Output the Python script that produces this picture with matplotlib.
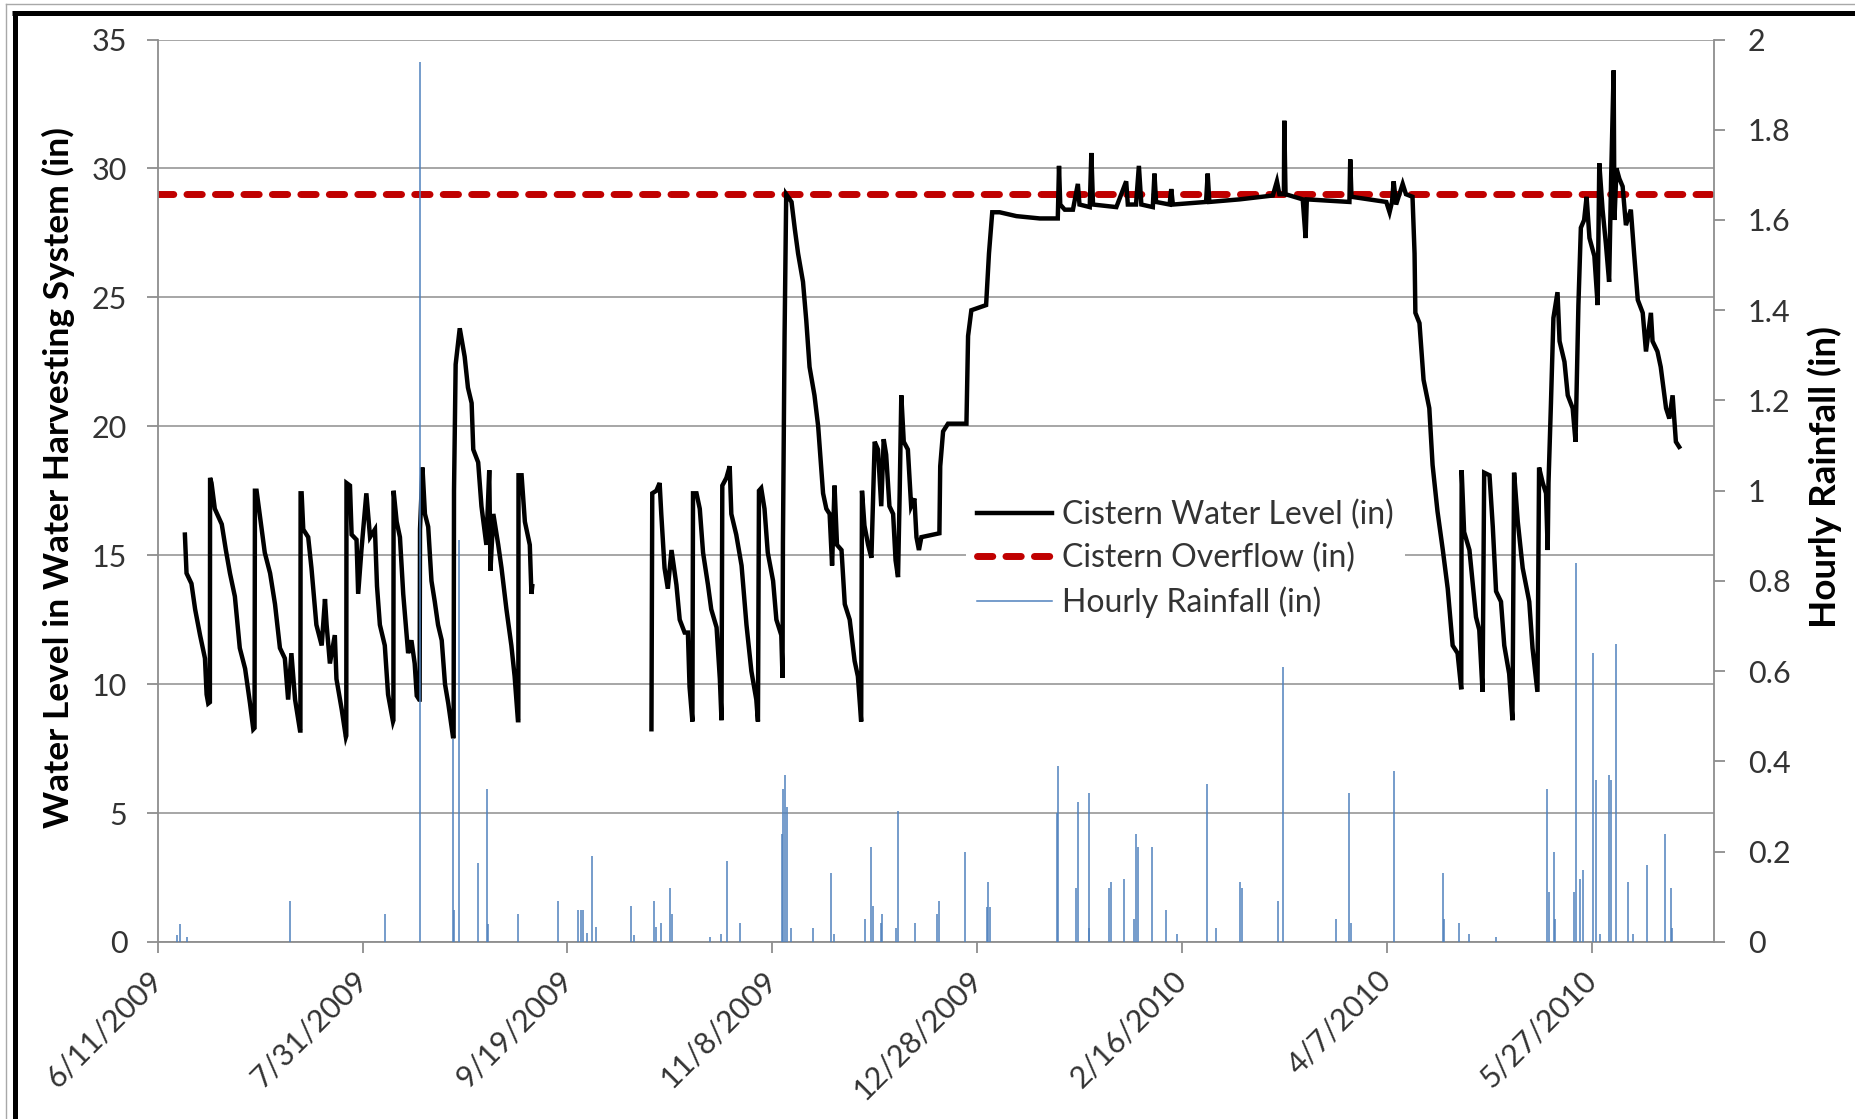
import numpy as np
import matplotlib
matplotlib.use("Agg")
import matplotlib.pyplot as plt
from matplotlib.lines import Line2D

# ---------------- data ----------------
start_date = "2009-06-11"
tick_dates = ["2009-06-11", "2009-07-31", "2009-09-19", "2009-11-08",
              "2009-12-28", "2010-02-16", "2010-04-07", "2010-05-27"]
tick_labels = ["6/11/2009", "7/31/2009", "9/19/2009", "11/8/2009",
               "12/28/2009", "2/16/2010", "4/7/2010", "5/27/2010"]
x_end_days = 380

# Cistern water level: days after 6/11/2009, inches (nan = no data)
level_day = [
    6.6, 7.0, 8.2, 9.1, 10.3, 11.5, 11.9, 12.3, 12.7, 12.75,
    13.1, 13.9, 15.6, 16.6, 17.6, 18.8, 20.0, 21.3, 22.5, 23.3, 23.6, 23.7,
    24.1, 25.1, 26.1, 27.4, 28.6, 29.8, 31.0, 31.8, 32.6, 33.5, 34.7, 34.8, 34.85,
    35.1, 35.5, 36.7, 37.5, 38.7, 40.0, 40.8, 41.2, 42.0, 43.2, 43.6, 44.9, 45.9, 46.0, 46.05,
    46.9, 47.3, 48.5, 48.9, 49.7, 50.9, 51.8, 53.0, 53.5, 54.2, 55.4, 56.2, 57.4, 57.5, 57.55,
    58.3, 59.1, 59.9, 61.1, 61.9, 62.7, 63.2, 63.8, 63.9, 64.0, 64.6,
    65.2, 66.0, 66.8, 67.6, 68.4, 69.3, 70.1, 70.9, 72.1, 72.2, 72.3, 72.7, 73.7,
    74.9, 75.7, 76.6, 77.0, 78.2, 79.0, 80.2, 80.9, 81.2, 81.9, 83.1, 83.9, 85.1, 86.3, 87.1, 87.9,
    88.0, 88.05, 88.8, 89.6, 90.8, 91.2, 91.4,
    100.0,
    120.5, 120.7, 121.7, 122.5, 122.9, 123.7, 124.5, 125.4, 126.6, 127.4, 128.6, 129.4, 129.8, 130.5,
    130.65, 131.5, 132.3, 133.1, 134.3, 135.1, 136.4, 137.2, 137.6,
    137.8, 138.8, 139.6, 140.0, 141.2, 142.5, 143.7, 144.9, 146.1, 146.5,
    146.75, 147.3, 148.1, 148.9, 150.2, 151.0, 152.2, 152.5,
    152.6, 153.0, 153.4, 154.7, 155.5, 156.3, 157.5, 158.3, 159.1, 160.3, 161.2, 162.4, 163.2,
    164.0, 164.6, 165.2, 165.8, 166.9, 167.7, 168.9, 170.1, 170.9, 171.7,
    171.9, 172.5, 173.4, 174.2, 174.6, 175.0, 175.8, 176.6, 177.2, 177.8, 178.6, 179.5, 180.1,
    180.7, 181.1, 181.5, 182.1, 183.1, 183.9, 184.7, 185.2, 185.8, 186.4, 190.8, 191.0, 191.7,
    192.9, 197.4, 197.8, 198.6, 202.2, 202.9, 203.7, 205.5, 209.6, 215.3, 219.7,
    220.0, 220.3, 221.4, 223.4, 224.6, 225.0, 227.5, 227.9, 228.3, 234.0, 236.4, 236.8, 238.8,
    239.5, 240.1, 242.9, 243.3, 243.7, 247.0, 247.4, 247.8, 255.9, 256.3, 256.7, 264.1, 272.2,
    273.2, 273.8, 274.9, 275.0, 275.3, 279.5, 280.2, 280.5, 290.9, 291.1, 291.4, 299.9, 300.7,
    301.3, 301.7, 302.3, 303.1, 303.9, 304.7, 306.3,
    306.8, 307.0, 308.0, 309.0, 310.4, 311.2, 312.4, 313.7, 314.9, 316.1, 317.3, 318.2,
    318.3, 318.9, 320.2, 321.8, 322.6, 323.4,
    323.8, 325.1, 325.9, 326.7, 327.9, 328.7, 329.9, 330.7,
    331.1, 332.0, 333.2, 334.8, 335.6, 336.8,
    337.2, 338.1, 338.9, 339.3, 339.5, 340.1, 340.7, 341.7, 342.2, 343.4, 344.2, 345.4, 346.1,
    346.8, 347.4, 348.2, 348.8, 349.5, 350.7, 351.5, 351.9, 352.7, 353.5, 354.3, 354.8, 355.4,
    355.6, 356.1, 356.8, 357.6, 358.4, 359.6, 360.4, 361.3, 362.5, 363.3, 364.5, 364.9, 366.1,
    366.9, 368.2, 369.0, 369.8, 370.6, 371.4,
]
level_in = [
    15.8, 14.3, 13.9, 12.9, 11.9, 11.0, 9.6, 9.25, 9.3, 18.0,
    17.8, 16.8, 16.2, 15.2, 14.3, 13.4, 11.4, 10.6, 9.25, 8.25, 8.3, 17.5,
    17.5, 16.3, 15.1, 14.3, 13.1, 11.4, 11.0, 9.4, 11.2, 9.4, 8.2, 8.2, 17.4,
    17.4, 16.0, 15.7, 14.5, 12.3, 11.5, 13.3, 12.3, 10.8, 11.9, 10.2, 9.0, 7.95, 8.0, 17.8,
    17.7, 15.8, 15.6, 13.5, 15.2, 17.4, 15.7, 16.0, 13.8, 12.3, 11.5, 9.6, 8.55, 8.6, 17.5,
    16.3, 15.7, 13.5, 11.2, 11.7, 10.8, 9.55, 9.4, 9.4, 16.0, 18.4,
    16.6, 16.1, 14.0, 13.2, 12.3, 11.7, 10.0, 9.25, 7.9, 8.0, 17.5, 22.4, 23.8,
    22.7, 21.5, 20.9, 19.1, 18.6, 16.9, 15.4, 18.3, 14.4, 16.6, 15.4, 14.5, 12.9, 11.5, 10.3, 8.6,
    8.6, 18.1, 18.1, 16.3, 15.4, 13.5, 13.8,
    np.nan,
    8.25, 17.4, 17.5, 17.8, 16.6, 14.5, 13.7, 15.2, 13.85, 12.5, 12.0, 12.0, 9.9, 8.55,
    17.4, 17.4, 16.8, 15.1, 13.85, 12.9, 12.2, 10.2, 8.6,
    17.7, 18.0, 18.45, 16.6, 15.8, 14.6, 12.3, 10.5, 9.4, 8.55,
    17.5, 17.6, 16.8, 15.1, 14.0, 12.5, 11.9, 10.25,
    15.5, 23.5, 29.0, 28.7, 27.65, 26.7, 25.6, 24.1, 22.3, 21.2, 20.0, 17.4, 16.8,
    16.6, 14.6, 17.7, 15.4, 15.2, 13.1, 12.5, 10.9, 10.3, 8.55,
    17.5, 16.15, 15.4, 14.9, 17.2, 19.4, 19.1, 16.9, 19.5, 18.9, 16.9, 16.6, 14.8,
    14.15, 17.4, 21.2, 19.4, 19.1, 16.9, 17.2, 15.7, 15.2, 15.7, 15.85, 18.45, 19.8,
    20.1, 20.1, 23.5, 24.5, 24.7, 26.7, 28.3, 28.3, 28.15, 28.06, 28.06,
    30.1, 28.6, 28.4, 28.4, 29.4, 28.6, 28.5, 30.6, 28.6, 28.5, 29.5, 28.6, 28.6,
    30.1, 28.6, 28.5, 29.8, 28.7, 28.6, 29.2, 28.6, 28.7, 29.8, 28.7, 28.8, 28.95,
    29.5, 29.0, 29.0, 31.85, 29.0, 28.8, 27.3, 28.8, 28.7, 30.35, 28.9, 28.7, 28.3,
    28.7, 29.5, 28.6, 29.0, 29.4, 29.0, 28.9,
    26.7, 24.4, 24.0, 21.8, 20.7, 18.5, 16.7, 15.2, 13.7, 11.5, 11.2, 9.8,
    18.3, 15.9, 15.2, 12.6, 12.1, 9.7,
    18.2, 18.1, 16.1, 13.6, 13.2, 11.5, 10.4, 8.6,
    18.2, 16.3, 14.5, 13.2, 11.4, 9.7,
    18.4, 17.8, 17.4, 15.2, 17.8, 20.9, 24.2, 25.2, 23.3, 22.5, 21.2, 20.7, 19.4,
    24.7, 27.7, 28.0, 28.9, 27.3, 26.6, 24.7, 30.2, 28.4, 27.1, 25.6, 29.7, 33.8,
    28.0, 30.0, 29.6, 29.3, 27.8, 28.4, 26.7, 24.9, 24.4, 22.9, 24.4, 23.3, 22.9,
    22.3, 20.7, 20.3, 21.2, 19.4, 19.2,
]

overflow_in = 29.0

# Hourly rainfall events: days after 6/11/2009, inches
rain_day = [
    4.6, 5.4, 7.2, 32.2, 55.4, 64.0, 72.1, 72.4, 73.4, 78.1, 80.3, 80.7, 88.0, 97.6,
    102.6, 103.2, 103.8, 104.8, 106.0, 107.0, 115.5, 116.2, 121.2, 121.6, 122.8, 125.1, 125.6,
    134.8, 137.4, 139.0, 142.0, 152.4, 152.7, 153.2, 153.6, 154.6, 160.0, 164.3, 165.1,
    172.6, 174.2, 174.6, 176.5, 176.8, 180.3, 180.8, 184.9, 190.2, 190.6, 197.1, 202.3,
    202.6, 203.1, 219.6, 219.7, 224.2, 224.6, 227.2, 227.4, 232.3, 232.7, 235.8, 238.4,
    238.8, 239.2, 242.7, 246.0, 248.9,
    256.2, 258.4, 264.3, 264.7, 273.4, 274.8, 287.6, 290.9, 291.2, 301.8, 313.7, 314.1,
    317.7, 320.2, 326.6, 339.2, 339.6, 340.8, 341.2, 345.8, 346.1, 347.1, 347.9, 350.4,
    351.1, 352.1, 354.2, 354.7, 356.0, 358.9, 360.2, 363.6, 367.9, 369.3, 369.7,
]
rain_in = [
    0.015, 0.04, 0.011, 0.09, 0.063, 1.95, 0.45, 0.07, 0.89, 0.174, 0.34, 0.04, 0.063, 0.09,
    0.07, 0.07, 0.07, 0.02, 0.19, 0.033, 0.08, 0.015, 0.09, 0.033, 0.042, 0.12, 0.063,
    0.011, 0.018, 0.18, 0.042, 0.24, 0.34, 0.37, 0.30, 0.03, 0.03, 0.153, 0.018,
    0.05, 0.21, 0.08, 0.042, 0.063, 0.03, 0.29, 0.042, 0.063, 0.09, 0.2, 0.078,
    0.133, 0.078, 0.285, 0.39, 0.12, 0.31, 0.03, 0.33, 0.12, 0.133, 0.14, 0.05,
    0.24, 0.21, 0.21, 0.07, 0.018,
    0.35, 0.03, 0.133, 0.12, 0.09, 0.61, 0.05, 0.33, 0.042, 0.38, 0.153, 0.05,
    0.042, 0.018, 0.011, 0.34, 0.11, 0.2, 0.05, 0.11, 0.84, 0.14, 0.16, 0.64,
    0.36, 0.018, 0.37, 0.36, 0.66, 0.133, 0.018, 0.17, 0.24, 0.12, 0.03,
]

series_names = ["Cistern Water Level (in)", "Cistern Overflow (in)", "Hourly Rainfall (in)"]

# ---------------- plotting ----------------
FONT = "Lato"
plt.rcParams["font.family"] = [FONT, "DejaVu Sans"]

t0 = np.datetime64(start_date, "s")


def to_dates(days):
    return t0 + (np.asarray(days, dtype=float) * 86400).astype("timedelta64[s]")


fig = plt.figure(figsize=(18.55, 11.19), dpi=100)
ax = fig.add_axes([0.0851, 0.1582, 0.8391, 0.8065])
ax2 = ax.twinx()

grid_c = "#8E8E8E"
text_c = "#333333"

# grid
ax.set_axisbelow(True)
ax.yaxis.grid(True, color=grid_c, lw=1.1)
ax.xaxis.grid(False)

# series
l1, = ax.plot(to_dates(level_day), level_in, color="black", lw=3.2,
              solid_joinstyle="miter", label=series_names[0], zorder=3)
l2 = ax.axhline(overflow_in, color="#C00000", lw=5.0, dashes=(2.2, 1.9),
                dash_capstyle="round", label=series_names[1], zorder=2)
ax2.vlines(to_dates(rain_day), 0, rain_in, color="#4F81BD", lw=1.1, zorder=4)

# axes limits
ax.set_ylim(0, 35)
ax.set_yticks(np.arange(0, 36, 5))
ax2.set_ylim(0, 2)
ax2.set_yticks([0, 0.2, 0.4, 0.6, 0.8, 1.0, 1.2, 1.4, 1.6, 1.8, 2.0])
ax2.set_yticklabels(["0", "0.2", "0.4", "0.6", "0.8", "1", "1.2", "1.4", "1.6", "1.8", "2"])
ax.set_xlim(to_dates([0])[0], to_dates([x_end_days])[0])
ax.set_xticks(np.array(tick_dates, dtype="datetime64[s]"))
ax.set_xticklabels(tick_labels, rotation=45, ha="right", va="center",
                   rotation_mode="anchor")

for a in (ax, ax2):
    for s in a.spines.values():
        s.set_color(grid_c)
        s.set_linewidth(1.3)
    a.spines["top"].set_visible(False)
ax.spines["right"].set_visible(False)
ax2.spines["left"].set_visible(False)
ax2.spines["bottom"].set_visible(False)

ax.tick_params(axis="both", direction="out", length=8, width=1.3, color=grid_c,
               labelsize=22, labelcolor=text_c)
ax.tick_params(axis="y", pad=14)
ax.tick_params(axis="x", pad=16)
ax2.tick_params(axis="y", direction="out", length=8, width=1.3, color=grid_c,
                labelsize=22, labelcolor=text_c, pad=16)

ax.set_ylabel("Water Level in Water Harvesting System (in)", fontsize=25.5,
              fontweight="bold", color="black", labelpad=12)
ax2.set_ylabel("Hourly Rainfall (in)", fontsize=26.5, fontweight="bold",
               color="black", labelpad=12)
ax.yaxis.label.set_y(0.515)
ax2.yaxis.label.set_y(0.515)

# legend
h3 = Line2D([], [], color="#4F81BD", lw=1.1, label=series_names[2])
leg = ax2.legend(handles=[l1, l2, h3], loc="center",
                 bbox_to_anchor=(0.6391, 0.5005), bbox_transform=fig.transFigure,
                 fontsize=23, frameon=True, facecolor="white", edgecolor="none",
                 framealpha=1, fancybox=False, borderpad=0.35, handlelength=2.35,
                 handletextpad=0.3, labelspacing=0.4)
for t in leg.get_texts():
    t.set_color(text_c)
leg.set_zorder(10)

# frame lines of the original image
fig.add_artist(Line2D([5.7 / 1855, 1], [1 - 4 / 1119, 1 - 4 / 1119],
                      transform=fig.transFigure, color="#A8A8A8", lw=1.0))
fig.add_artist(Line2D([5.7 / 1855, 5.7 / 1855], [0, 1 - 4 / 1119],
                      transform=fig.transFigure, color="#A8A8A8", lw=1.0))
fig.add_artist(Line2D([12 / 1855, 1], [1 - 12.8 / 1119, 1 - 12.8 / 1119],
                      transform=fig.transFigure, color="black", lw=3.6,
                      solid_capstyle="butt"))
fig.add_artist(Line2D([14.7 / 1855, 14.7 / 1855], [0, 1 - 10.5 / 1119],
                      transform=fig.transFigure, color="black", lw=3.6,
                      solid_capstyle="butt"))

fig.savefig("out.png", dpi=100)
